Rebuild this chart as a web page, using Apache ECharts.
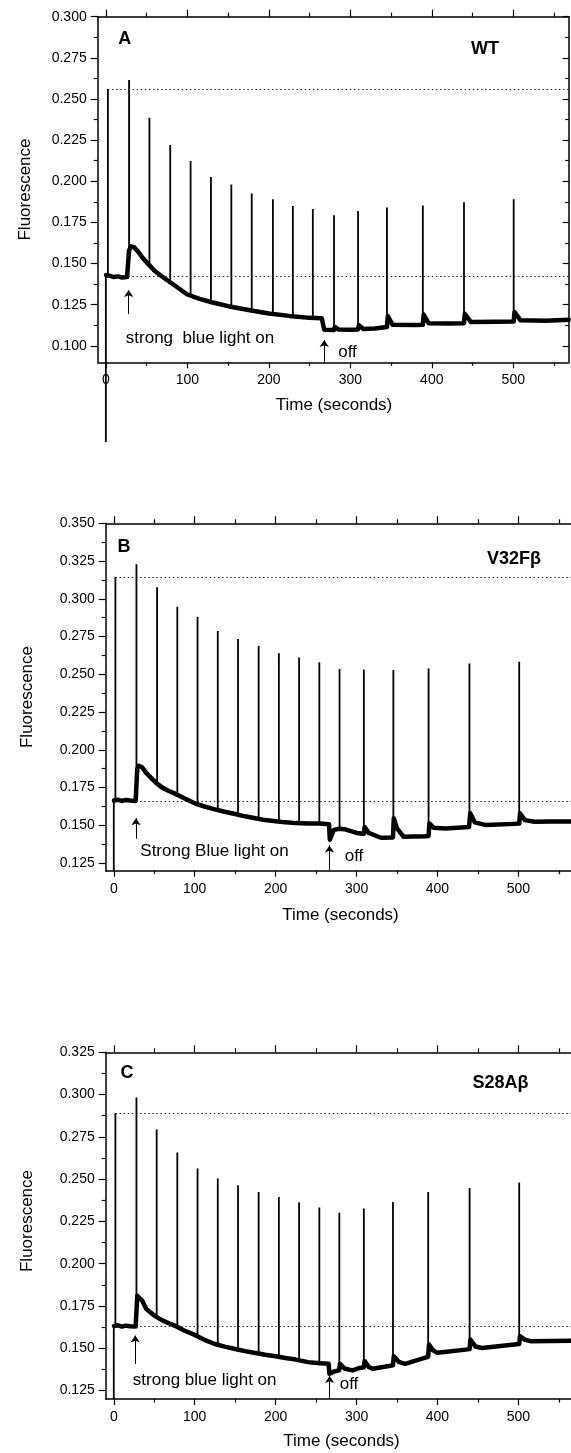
<!DOCTYPE html>
<html><head><meta charset="utf-8">
<script src="https://cdn.jsdelivr.net/npm/echarts@6/dist/echarts.min.js"></script>
<style>html,body{margin:0;padding:0;background:#fff}#c{width:571px;height:1453px}</style>
</head><body><div id="c"></div>
<script>
// ---------- tick labels ----------
const xTicks = [0, 100, 200, 300, 400, 500];
const xMinor = [50, 150, 250, 350, 450, 550];
const yTicksA = [0.100, 0.125, 0.150, 0.175, 0.200, 0.225, 0.250, 0.275, 0.300];
const yMinorA = [0.1125, 0.1375, 0.1625, 0.1875, 0.2125, 0.2375, 0.2625, 0.2875];
const yTicksB = [0.125, 0.150, 0.175, 0.200, 0.225, 0.250, 0.275, 0.300, 0.325, 0.350];
const yMinorB = [0.1375, 0.1625, 0.1875, 0.2125, 0.2375, 0.2625, 0.2875, 0.3125, 0.3375];
const yTicksC = [0.125, 0.150, 0.175, 0.200, 0.225, 0.250, 0.275, 0.300, 0.325];
const yMinorC = [0.1375, 0.1625, 0.1875, 0.2125, 0.2375, 0.2625, 0.2875, 0.3125];

// ---------- panel A (WT) ----------
const spikeTimeA = [2.5, 28.5, 53.5, 79, 104, 129, 154, 179, 205, 229.5, 254, 280, 309.5, 345, 389, 439.5, 500.5];
const spikePeakA = [0.256, 0.2615, 0.2386, 0.222, 0.2123, 0.2026, 0.198, 0.1926, 0.189, 0.1849, 0.1831, 0.1794, 0.1819, 0.1841, 0.1853, 0.1873, 0.189];
const spikeBaseA = [0.143, 0.150, 0.149, 0.139, 0.131, 0.127, 0.124, 0.1215, 0.119, 0.118, 0.1167, 0.110, 0.110, 0.111, 0.1125, 0.1136, 0.1146];
const startLineA = [[0, 0.0415], [0, 0.143]];
const traceA = [[0.3, 0.143], [5, 0.1425], [10, 0.1418], [15, 0.1422], [20, 0.1415], [26, 0.1418], [27.5, 0.142], [28.5, 0.158], [31, 0.1605], [35, 0.1598], [40, 0.157], [45, 0.1535], [53, 0.1492], [60, 0.1455], [68, 0.1425], [75, 0.140], [85, 0.1365], [100, 0.1312], [115, 0.1285], [130, 0.1265], [150, 0.1241], [175, 0.1218], [200, 0.1197], [225, 0.1182], [250, 0.117], [265, 0.1167], [267, 0.1165], [268, 0.1098], [280, 0.1096], [281, 0.1115], [285, 0.110], [300, 0.1098], [309.5, 0.110], [310.5, 0.1125], [316, 0.1102], [330, 0.1105], [345, 0.1115], [346, 0.118], [352, 0.1128], [380, 0.1126], [389, 0.1128], [390, 0.119], [396, 0.1138], [420, 0.1136], [439.5, 0.1138], [440.5, 0.1195], [448, 0.1145], [480, 0.1146], [500.5, 0.1148], [501.5, 0.1205], [509, 0.1155], [540, 0.1152], [568, 0.1158]];
const dottedA = [0.256, 0.1424];
const arrowOnA = [28, 0.1193, 0.1339];
const arrowOffA = [268, 0.09, 0.1035];

// ---------- panel B (V32Fβ) ----------
const spikeTimeB = [2, 28, 53.5, 78.5, 103.5, 128.5, 153.5, 179, 204, 229, 254, 279, 309, 345.5, 389, 439.5, 501];
const spikePeakB = [0.3146, 0.3229, 0.3077, 0.2948, 0.2882, 0.2787, 0.2734, 0.2688, 0.2639, 0.2612, 0.258, 0.2536, 0.2532, 0.2528, 0.2539, 0.2572, 0.2583];
const spikeBaseB = [0.1665, 0.1665, 0.1778, 0.1712, 0.1646, 0.1606, 0.1575, 0.1547, 0.1528, 0.1518, 0.1512, 0.1475, 0.145, 0.142, 0.143, 0.149, 0.1515];
const startLineB = [[0, 0.12], [0, 0.1665]];
const traceB = [[0.3, 0.1665], [5, 0.167], [10, 0.1662], [15, 0.1668], [20, 0.1665], [27, 0.1662], [28, 0.1665], [29, 0.1875], [31, 0.1895], [35, 0.1885], [40, 0.1848], [47, 0.181], [53, 0.1778], [60, 0.175], [68, 0.1728], [75, 0.1712], [87, 0.168], [100, 0.1646], [112, 0.1625], [125, 0.1606], [137, 0.159], [150, 0.1575], [162, 0.156], [175, 0.1547], [187, 0.1535], [200, 0.1527], [212, 0.152], [225, 0.1515], [240, 0.1512], [255, 0.1512], [266, 0.1508], [267, 0.1405], [268.5, 0.1425], [272, 0.147], [278.5, 0.1478], [279.5, 0.1485], [285, 0.1475], [300, 0.145], [309, 0.1445], [310, 0.149], [315, 0.145], [330, 0.1418], [345, 0.142], [346, 0.1547], [350, 0.148], [358, 0.1425], [385, 0.1428], [389, 0.143], [390, 0.1513], [395, 0.1485], [410, 0.148], [439, 0.149], [440.5, 0.158], [446, 0.152], [460, 0.1502], [495, 0.151], [501, 0.1512], [502, 0.158], [508, 0.1535], [520, 0.1524], [540, 0.1525], [565, 0.1525]];
const dottedB = [0.3146, 0.166];
const arrowOnB = [27.5, 0.1412, 0.1547];
const arrowOffB = [266.5, 0.12, 0.1367];

// ---------- panel C (S28Aβ) ----------
const spikeTimeC = [2, 28, 53, 78.5, 103.5, 128.5, 153.5, 179, 204, 229, 254, 278.7, 309, 345, 388.5, 439.7, 501];
const spikePeakC = [0.289, 0.2983, 0.2794, 0.2658, 0.2563, 0.2504, 0.2464, 0.2424, 0.2395, 0.2363, 0.2332, 0.2302, 0.2326, 0.2365, 0.2424, 0.2448, 0.248];
const spikeBaseC = [0.1632, 0.163, 0.1684, 0.1634, 0.1579, 0.1525, 0.1496, 0.1472, 0.1453, 0.1433, 0.1415, 0.1375, 0.1385, 0.1395, 0.1453, 0.1492, 0.1522];
const startLineC = [[0, 0.12], [0, 0.1632]];
const traceC = [[0.3, 0.1632], [5, 0.1636], [10, 0.1628], [15, 0.1634], [20, 0.163], [27, 0.1628], [28, 0.163], [29, 0.181], [31, 0.1818], [35, 0.1782], [40, 0.1733], [47, 0.1705], [53, 0.1684], [60, 0.1665], [68, 0.1648], [75, 0.1634], [87, 0.1605], [100, 0.1579], [112, 0.155], [125, 0.1525], [137, 0.151], [150, 0.1496], [162, 0.1483], [175, 0.1472], [187, 0.1462], [200, 0.1453], [212, 0.1442], [225, 0.1433], [240, 0.1418], [255, 0.1412], [265.5, 0.1408], [266.5, 0.1349], [272, 0.1362], [278.5, 0.137], [279.5, 0.1408], [285, 0.138], [295, 0.1369], [305, 0.1385], [309, 0.1388], [310, 0.1424], [315, 0.139], [320, 0.1379], [340, 0.1395], [345, 0.14], [346, 0.1453], [352, 0.142], [360, 0.1408], [385, 0.1445], [388.5, 0.145], [389.5, 0.1522], [394, 0.149], [400, 0.1473], [435, 0.1492], [439.7, 0.1495], [440.7, 0.1552], [447, 0.151], [455, 0.1502], [495, 0.1522], [501, 0.1525], [502, 0.1571], [508, 0.155], [515, 0.1542], [565, 0.1545]];
const dottedC = [0.289, 0.163];
const arrowOnC = [26.5, 0.1408, 0.1575];
const arrowOffC = [266.7, 0.12, 0.1336];

// ---------- texts ----------
const panelLetters = ['A', 'B', 'C'];
const strainNames = ['WT', 'V32F\u03b2', 'S28A\u03b2'];
const onTexts = ['strong  blue light on', 'Strong Blue light on', 'strong blue light on'];
const offText = 'off';
const xTitle = 'Time (seconds)';
const yTitle = 'Fluorescence';

// ---------- layout ----------
const FONT = '"Liberation Sans", Arial, sans-serif';
const panels = [
  { grid: {left: 97.7, top: 16.7, width: 471, height: 345.6}, xMin: -10, xMax: 568, yMin: 0.09, yMax: 0.30,
    yTicks: yTicksA, yMinor: yMinorA, right: true, spT: spikeTimeA, spP: spikePeakA, spB: spikeBaseA, start: startLineA,
    trace: traceA, dotted: dottedA, dotStart: 2.5, on: arrowOnA, off: arrowOffA,
    pos: {letter: [124.7, 39], name: [485, 49], on: [200, 338.5], off: [347.5, 352], yt: [25, 189.5], xt: [334, 405]} },
  { grid: {left: 105.7, top: 523.3, width: 467, height: 347.4}, xMin: -10, xMax: 565, yMin: 0.12, yMax: 0.35,
    yTicks: yTicksB, yMinor: yMinorB, right: false, spT: spikeTimeB, spP: spikePeakB, spB: spikeBaseB, start: startLineB,
    trace: traceB, dotted: dottedB, dotStart: 2, on: arrowOnB, off: arrowOffB,
    pos: {letter: [124, 547], name: [514, 559], on: [214.5, 851.7], off: [354, 856.7], yt: [27, 697], xt: [340.5, 915]} },
  { grid: {left: 105.7, top: 1052.3, width: 467, height: 346.7}, xMin: -10, xMax: 565, yMin: 0.12, yMax: 0.325,
    yTicks: yTicksC, yMinor: yMinorC, right: false, spT: spikeTimeC, spP: spikePeakC, spB: spikeBaseC, start: startLineC,
    trace: traceC, dotted: dottedC, dotStart: 2, on: arrowOnC, off: arrowOffC,
    pos: {letter: [127, 1073], name: [500.5, 1083], on: [204.7, 1380.7], off: [349, 1384], yt: [27, 1221], xt: [341.5, 1441.7]} }
];

const grids = [], xAxes = [], yAxes = [], series = [], graphic = [];
const lineW = 1.5;
function ax(o) { return Object.assign({type: 'value', splitLine: {show: false}, axisPointer: {show: false}}, o); }
const hiddenLine = {show: false, onZero: false};

panels.forEach((p, i) => {
  grids.push(Object.assign({containLabel: false}, p.grid));
  const xb = xAxes.length;
  xAxes.push(ax({gridIndex: i, position: 'bottom', min: p.xMin, max: p.xMax,
    axisLine: {onZero: false, lineStyle: {color: '#000', width: lineW}},
    axisTick: {inside: false, length: 6, customValues: xTicks, lineStyle: {color: '#000', width: 1.2}},
    axisLabel: {customValues: xTicks, fontSize: 14, color: '#000', margin: 11, fontFamily: FONT}}));
  xAxes.push(ax({gridIndex: i, position: 'bottom', min: p.xMin, max: p.xMax, axisLine: hiddenLine,
    axisTick: {inside: false, length: 3.5, customValues: xMinor, lineStyle: {color: '#000', width: 1.2}}, axisLabel: {show: false}}));
  xAxes.push(ax({gridIndex: i, position: 'top', min: p.xMin, max: p.xMax,
    axisLine: {onZero: false, lineStyle: {color: '#000', width: lineW}},
    axisTick: {inside: false, length: 7, customValues: xTicks, lineStyle: {color: '#000', width: 1.2}}, axisLabel: {show: false}}));
  xAxes.push(ax({gridIndex: i, position: 'top', min: p.xMin, max: p.xMax, axisLine: hiddenLine,
    axisTick: {inside: false, length: 4, customValues: xMinor, lineStyle: {color: '#000', width: 1.2}}, axisLabel: {show: false}}));

  const yb = yAxes.length;
  yAxes.push(ax({gridIndex: i, position: 'left', min: p.yMin, max: p.yMax,
    axisLine: {show: true, onZero: false, lineStyle: {color: '#000', width: lineW}},
    axisTick: {show: true, inside: false, length: 7, customValues: p.yTicks, lineStyle: {color: '#000', width: 1.2}},
    axisLabel: {customValues: p.yTicks, fontSize: 14, color: '#000', margin: 11, fontFamily: FONT, formatter: v => v.toFixed(3)}}));
  yAxes.push(ax({gridIndex: i, position: 'left', min: p.yMin, max: p.yMax, axisLine: hiddenLine,
    axisTick: {show: true, inside: false, length: 4, customValues: p.yMinor, lineStyle: {color: '#000', width: 1.2}}, axisLabel: {show: false}}));
  if (p.right) {
    yAxes.push(ax({gridIndex: i, position: 'right', min: p.yMin, max: p.yMax,
      axisLine: {show: true, onZero: false, lineStyle: {color: '#000', width: lineW}},
      axisTick: {show: true, inside: true, length: 6, customValues: p.yTicks, lineStyle: {color: '#000', width: 1.2}}, axisLabel: {show: false}}));
    yAxes.push(ax({gridIndex: i, position: 'right', min: p.yMin, max: p.yMax, axisLine: hiddenLine,
      axisTick: {show: true, inside: true, length: 3.5, customValues: p.yMinor, lineStyle: {color: '#000', width: 1.2}}, axisLabel: {show: false}}));
  }

  // spikes as vertical segments
  const spikeData = [p.start[0], p.start[1], [p.start[1][0], null]];
  p.spT.forEach((t, k) => { spikeData.push([t, p.spB[k]], [t, p.spP[k]], [t, null]); });

  series.push({type: 'line', xAxisIndex: xb, yAxisIndex: yb, data: p.trace, showSymbol: false, symbol: 'none',
    clip: false, animation: false, silent: true,
    lineStyle: {color: '#000', width: 4.5, join: 'round', cap: 'round'},
    markLine: {silent: true, animation: false, symbol: ['none', 'arrow'], symbolSize: 7,
      label: {show: false}, lineStyle: {color: '#000', width: 1, type: 'solid'},
      data: [[{coord: [p.on[0], p.on[1]]}, {coord: [p.on[0], p.on[2]]}],
             [{coord: [p.off[0], p.off[1]]}, {coord: [p.off[0], p.off[2]]}]]}});
  series.push({type: 'line', xAxisIndex: xb, yAxisIndex: yb, data: spikeData, showSymbol: false, symbol: 'none',
    connectNulls: false, clip: false, animation: false, silent: true,
    lineStyle: {color: '#000', width: 1.8},
    markLine: {silent: true, animation: false, symbol: ['none', 'none'], label: {show: false},
      lineStyle: {color: '#222', width: 1, type: [1.5, 2.6]},
      data: p.dotted.map(v => [{coord: [p.dotStart, v]}, {coord: [p.xMax, v]}])}});

  const T = (txt, xy, extra) => graphic.push({type: 'text', x: xy[0], y: xy[1], silent: true,
    style: Object.assign({text: txt, fill: '#000', font: '17px ' + FONT, textAlign: 'center', textVerticalAlign: 'middle'}, extra || {})});
  T(panelLetters[i], p.pos.letter, {font: 'bold 18px ' + FONT});
  T(strainNames[i], p.pos.name, {font: 'bold 18px ' + FONT});
  T(onTexts[i], p.pos.on);
  T(offText, p.pos.off);
  T(xTitle, p.pos.xt);
  graphic.push({type: 'text', x: p.pos.yt[0], y: p.pos.yt[1], rotation: Math.PI / 2, silent: true,
    style: {text: yTitle, fill: '#000', font: '17px ' + FONT, textAlign: 'center', textVerticalAlign: 'middle'}});
});

const chart = echarts.init(document.getElementById('c'), null, {renderer: 'canvas'});
chart.setOption({animation: false, backgroundColor: '#fff', grid: grids, xAxis: xAxes, yAxis: yAxes, series: series, graphic: graphic});
</script></body></html>
